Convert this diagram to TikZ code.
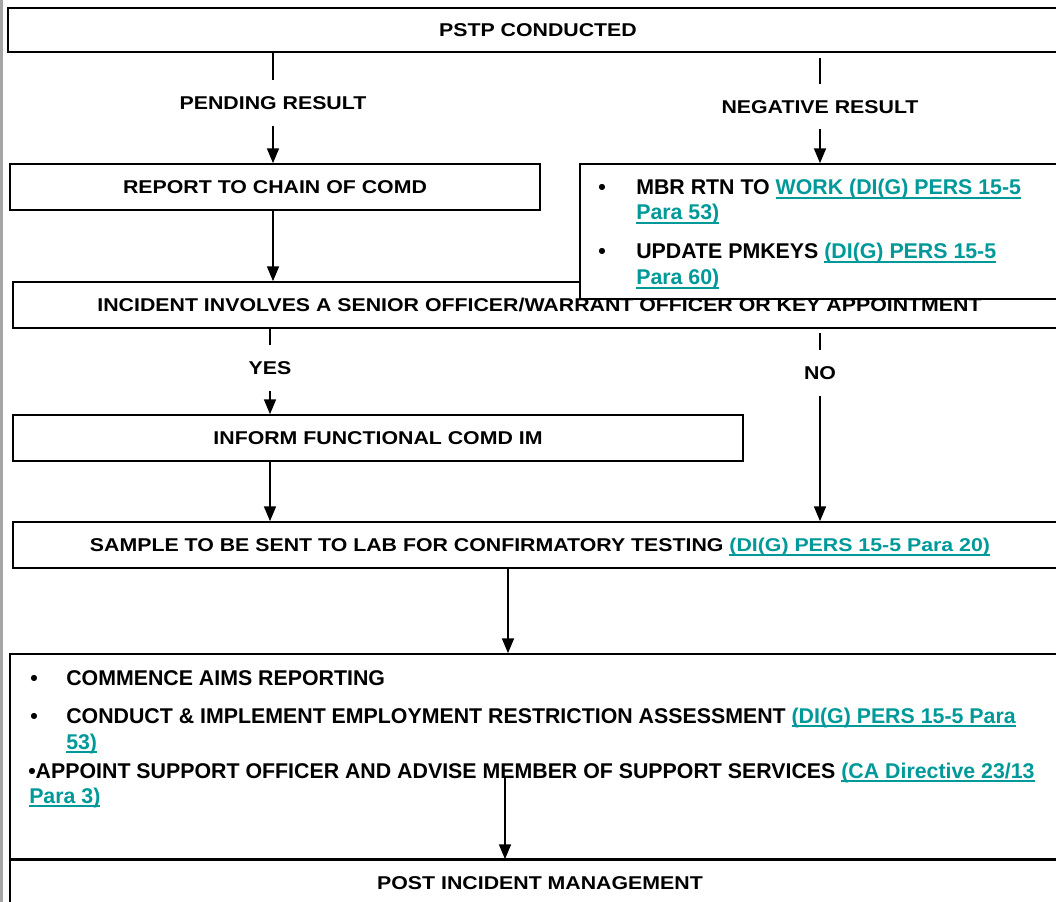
\documentclass[tikz,border=0pt]{standalone}
\usepackage{fontspec}
\usetikzlibrary{arrows.meta}
\newfontfamily\mainf{Liberation Sans}[FakeStretch=1.15]
\newfontfamily\bodyf{Liberation Sans}
\definecolor{linkc}{RGB}{0,153,153}
\definecolor{edgegrey}{RGB}{165,165,165}
\newcommand\lnkm[1]{\textcolor{linkc}{\setbox0\hbox{#1}\rlap{\rule[-3pt]{\wd0}{1.2pt}}\box0}}
\newcommand\lnkb[1]{\textcolor{linkc}{\setbox0\hbox{#1}\rlap{\rule[-3.1pt]{\wd0}{1.4pt}}\box0}}
\tikzset{
  box/.style={draw=black, line width=1.3pt, fill=white, inner sep=0pt,
    font=\mainf\bfseries\fontsize{13.9}{16}\selectfont, text height=10pt, text depth=0pt},
  lbl/.style={inner xsep=0pt, inner ysep=12pt,
    font=\mainf\bfseries\fontsize{13.9}{16}\selectfont, text height=10pt, text depth=0pt},
  conn/.style={line width=1pt},
  arr/.style={conn, -{Triangle[length=11pt,width=9pt]}},
  txt/.style={anchor=base west, inner sep=0pt, font=\bodyf\bfseries\fontsize{16}{19}\selectfont}
}
\begin{document}
\begin{tikzpicture}[x=0.75pt,y=-0.75pt]
\useasboundingbox (0,0) rectangle (1056,902);
\clip (0,0) rectangle (1056,902);
\fill[white] (0,0) rectangle (1056,902);
\draw[edgegrey, line width=2pt] (1.5,0) -- (1.5,902);

% boxes
\node[box, minimum width=795pt, minimum height=33pt] (pstp) at (538,30) {PSTP CONDUCTED};
\node[box, minimum width=397.5pt, minimum height=34.5pt] (report) at (275,187) {REPORT TO CHAIN OF COMD};
\node[box, minimum width=789.75pt, minimum height=34.5pt] (incident) at (539.5,305) {INCIDENT INVOLVES A SENIOR OFFICER/WARRANT OFFICER OR KEY APPOINTMENT};
\node[box, minimum width=397.5pt, minimum height=101.25pt] (negbox) at (845,231.5) {};
\node[box, minimum width=547.5pt, minimum height=34.5pt] (inform) at (378,438) {INFORM FUNCTIONAL COMD IM};
\node[box, minimum width=790.5pt, minimum height=34.5pt] (sample) at (540,545) {SAMPLE TO BE SENT TO LAB FOR CONFIRMATORY TESTING \lnkm{(DI(G) PERS 15-5 Para 20)}};
\node[box, minimum width=825pt, minimum height=153.75pt] (actions) at (560,756.5) {};
\node[box, minimum width=795pt, minimum height=34.5pt] (post) at (540,883) {POST INCIDENT MANAGEMENT};

% negative result box text
\node[txt] (nb1) at (598,195) {•};
\node[txt] (nt1) at (636,195) {MBR RTN TO \lnkb{WORK (DI(G) PERS 15-5}};
\node[txt] (nt1b) at (636,220) {\lnkb{Para 53)}};
\node[txt] (nb2) at (598,259) {•};
\node[txt] (nt2) at (636,259) {UPDATE PMKEYS \lnkb{(DI(G) PERS 15-5}};
\node[txt] (nt2b) at (636,285) {\lnkb{Para 60)}};

% actions box text
\node[txt] (ab1) at (30,685) {•};
\node[txt] (at1) at (66,685) {COMMENCE AIMS REPORTING};
\node[txt] (ab2) at (30,723) {•};
\node[txt] (at2) at (66,723) {CONDUCT \& IMPLEMENT EMPLOYMENT RESTRICTION ASSESSMENT \lnkb{(DI(G) PERS 15-5 Para}};
\node[txt] (at2b) at (66,749) {\lnkb{53)}};
\node[txt] (at3) at (28,778) {•APPOINT SUPPORT OFFICER AND ADVISE MEMBER OF SUPPORT SERVICES \lnkb{(CA Directive 23/13}};
\node[txt] (at3b) at (29,803) {\lnkb{Para 3)}};

% edge labels
\node[lbl] (pend) at (273,103) {PENDING RESULT};
\node[lbl] (negl) at (820,106.5) {NEGATIVE RESULT};
\node[lbl] (yes) at (270,368) {YES};
\node[lbl] (no) at (820,373) {NO};

% named free ends
\coordinate (negtop) at (820,58);
\coordinate (midcol) at (508,600);
\coordinate (acts) at (505,778);

% connectors
\draw[conn] (pstp.south -| pend) -- (pend.north);
\draw[arr] (pend.south) -- (report.north -| pend);
\draw[conn] (negtop) -- (negl.north);
\draw[arr] (negl.south) -- (negbox.north -| negl);
\draw[arr] (report.south -| pend) -- (incident.north -| pend);
\draw[conn] (incident.south -| yes) -- (yes.north);
\draw[arr] (yes.south) -- (inform.north -| yes);
\draw[conn] ([yshift=-3pt]incident.south -| no) -- (no.north);
\draw[arr] (no.south) -- (sample.north -| no);
\draw[arr] (inform.south -| yes) -- (sample.north -| yes);
\draw[arr] (sample.south -| midcol) -- (actions.north -| midcol);
\draw[arr] (acts) -- (post.north -| acts);
\end{tikzpicture}
\end{document}
